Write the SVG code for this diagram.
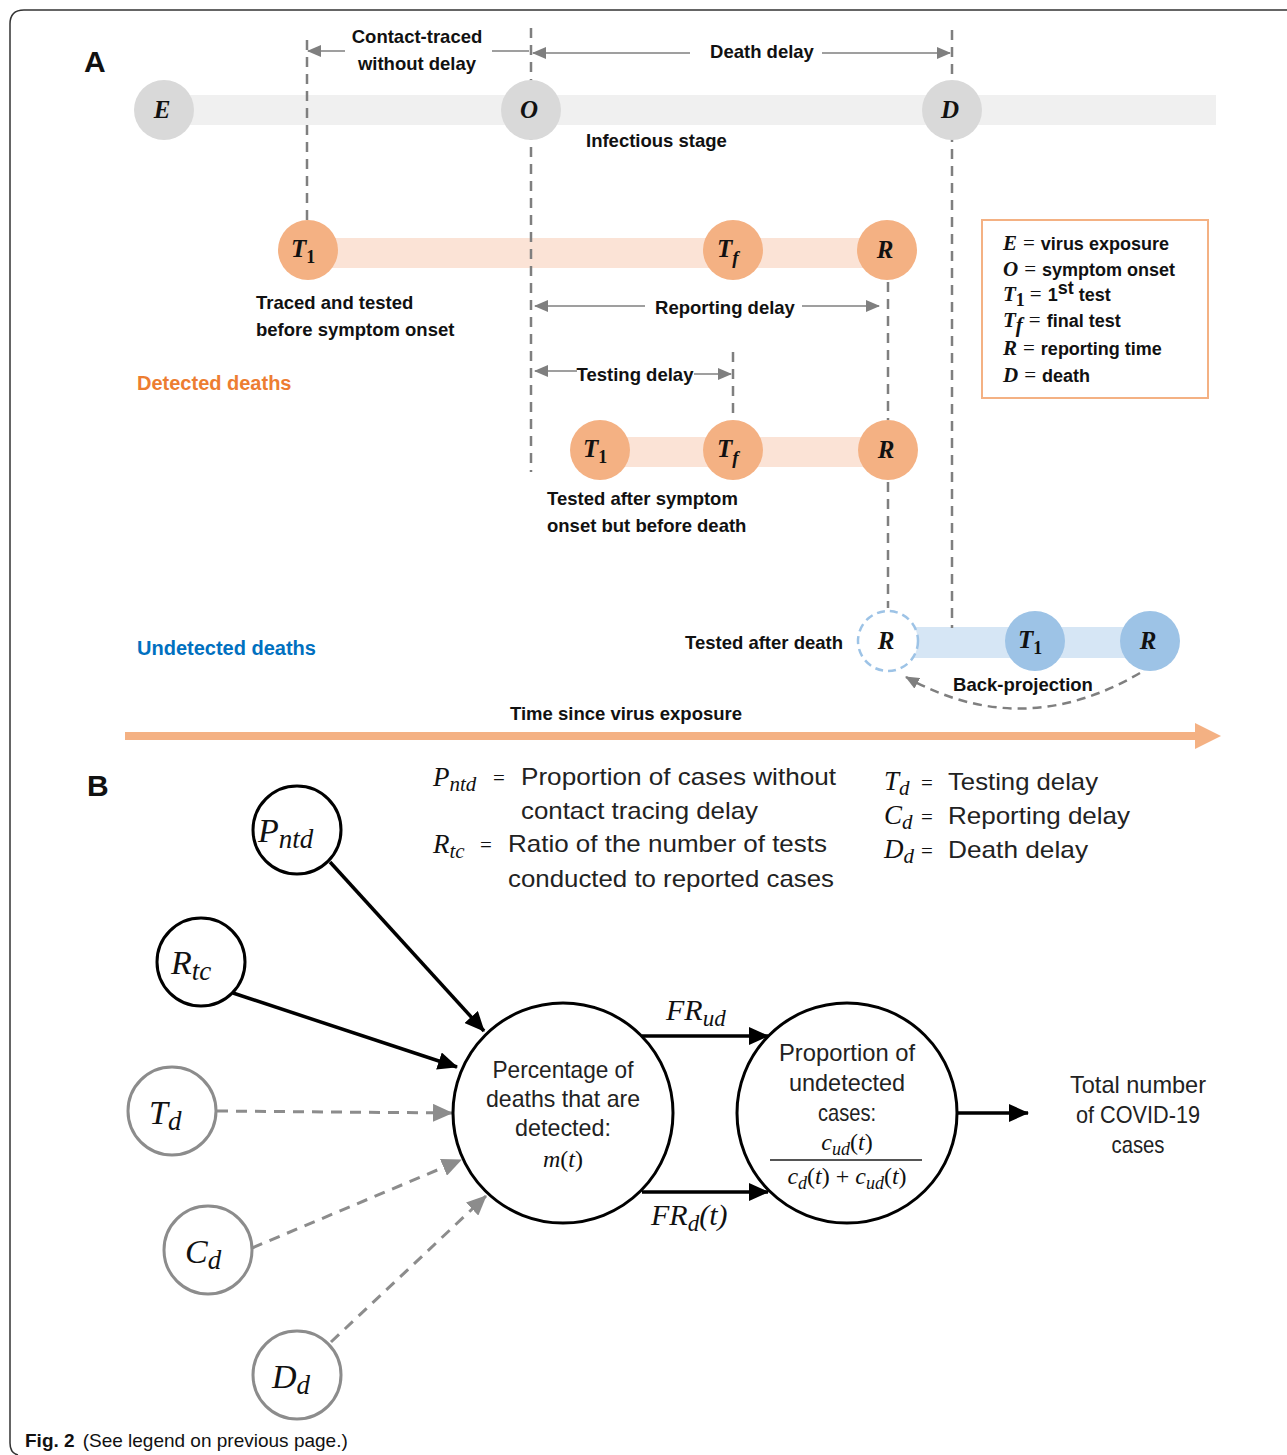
<svg xmlns="http://www.w3.org/2000/svg" width="1287" height="1455" viewBox="0 0 1287 1455">
<defs>
<style>
.sans{font-family:"Liberation Sans",Arial,sans-serif}
.lbl{font-family:"Liberation Sans",Arial,sans-serif;font-weight:bold;font-size:18.5px;fill:#111}
.mathA{font-family:"Liberation Serif","Times New Roman",serif;font-style:italic;font-weight:bold;font-size:25px;fill:#111}
.subA{font-family:"Liberation Serif","Times New Roman",serif;font-style:normal;font-weight:bold;font-size:18px;fill:#111}
.leg{font-family:"Liberation Sans",Arial,sans-serif;font-weight:bold;font-size:18px;fill:#111}
.legm{font-family:"Liberation Serif","Times New Roman",serif;font-style:italic;font-weight:bold;font-size:21px;fill:#111}
.eq{font-family:"Liberation Serif","Times New Roman",serif;font-size:21px;fill:#111}
.bt{font-family:"Liberation Sans",Arial,sans-serif;font-size:24px;fill:#222}
.bm{font-family:"Liberation Serif","Times New Roman",serif;font-style:italic;fill:#111}
.dash{stroke:#7f7f7f;stroke-width:2.5;stroke-dasharray:10 7;fill:none}
.thin{stroke:#7f7f7f;stroke-width:1.5;fill:none}
.gc{fill:#d9d9d9}
.oc{fill:#f4b183}
.bc{fill:#9dc3e6}
.bk{stroke:#000;stroke-width:3.5;fill:none}
.gy{stroke:#8c8c8c;stroke-width:3;fill:none;stroke-dasharray:11 8}
.nb{fill:#fff;stroke:#000;stroke-width:3}
.ng{fill:#fff;stroke:#8c8c8c;stroke-width:3}
</style>
<marker id="ga" markerUnits="userSpaceOnUse" markerWidth="14" markerHeight="12" refX="13" refY="6" orient="auto"><path d="M0,0 L14,6 L0,12 z" fill="#7f7f7f"/></marker>
<marker id="ka" markerUnits="userSpaceOnUse" markerWidth="20" markerHeight="18" refX="19" refY="9" orient="auto"><path d="M0,0 L20,9 L0,18 z" fill="#000"/></marker>
<marker id="gya" markerUnits="userSpaceOnUse" markerWidth="20" markerHeight="18" refX="19" refY="9" orient="auto"><path d="M0,0 L20,9 L0,18 z" fill="#8c8c8c"/></marker>
</defs>
<rect width="1287" height="1455" fill="#fff"/>
<path d="M1287 10 H24 Q10 10 10 24 V1443 Q10 1453 18 1455" fill="none" stroke="#333" stroke-width="1.5"/>

<!-- Panel A -->
<text x="84" y="72" class="sans" font-size="30" font-weight="bold" fill="#111">A</text>
<rect x="164" y="95" width="1052" height="30" fill="#f0f0f0"/>
<rect x="308" y="238" width="580" height="30" fill="#fbe3d6"/>
<rect x="600" y="437" width="288" height="30" fill="#fbe3d6"/>
<rect x="888" y="627" width="262" height="31" fill="#d6e6f5"/>

<g id="connectors">
<line class="dash" x1="307" y1="40" x2="307" y2="222"/>
<line class="dash" x1="531" y1="28" x2="531" y2="472"/>
<line class="dash" x1="952" y1="30" x2="952" y2="628"/>
<line class="dash" x1="888" y1="282" x2="888" y2="420"/>
<line class="dash" x1="888" y1="482" x2="888" y2="608"/>
<line class="dash" x1="733" y1="352" x2="733" y2="420"/>
<line class="thin" x1="345" y1="51" x2="308" y2="51" marker-end="url(#ga)"/>
<line class="thin" x1="492" y1="51" x2="529" y2="51"/>
<line class="thin" x1="690" y1="53" x2="533" y2="53" marker-end="url(#ga)"/>
<line class="thin" x1="822" y1="53" x2="950" y2="53" marker-end="url(#ga)"/>
<line class="thin" x1="645" y1="306" x2="535" y2="306" marker-end="url(#ga)"/>
<line class="thin" x1="802" y1="306" x2="879" y2="306" marker-end="url(#ga)"/>
<line class="thin" x1="577" y1="371" x2="535" y2="371" marker-end="url(#ga)"/>
<line class="thin" x1="694" y1="374" x2="731" y2="374" marker-end="url(#ga)"/>
<path d="M1140 673 Q1022 742 906 677" stroke="#7f7f7f" stroke-width="2.5" stroke-dasharray="9 6" fill="none" marker-end="url(#ga)"/>
<line x1="125" y1="736" x2="1196" y2="736" stroke="#f4b183" stroke-width="8"/>
<polygon points="1195,723 1221,736 1195,749" fill="#f4b183"/>
<line class="bk" x1="330" y1="862" x2="484" y2="1031" marker-end="url(#ka)"/>
<line class="bk" x1="233" y1="993" x2="457" y2="1067" marker-end="url(#ka)"/>
<line class="gy" x1="217" y1="1111" x2="452" y2="1113" marker-end="url(#gya)"/>
<line class="gy" x1="252" y1="1248" x2="461" y2="1160" marker-end="url(#gya)"/>
<line class="gy" x1="331" y1="1342" x2="486" y2="1196" marker-end="url(#gya)"/>
<line class="bk" x1="642" y1="1036" x2="768" y2="1036" marker-end="url(#ka)"/>
<line class="bk" x1="642" y1="1192" x2="768" y2="1192" marker-end="url(#ka)"/>
<line class="bk" x1="958" y1="1113" x2="1028" y2="1113" marker-end="url(#ka)"/>
</g>

<text x="417" y="43" class="lbl" text-anchor="middle">Contact-traced</text>
<text x="417" y="70" class="lbl" text-anchor="middle">without delay</text>
<text x="762" y="58" class="lbl" text-anchor="middle">Death delay</text>
<text x="586" y="147" class="lbl">Infectious stage</text>
<text x="256" y="309" class="lbl">Traced and tested</text>
<text x="256" y="336" class="lbl">before symptom onset</text>
<text x="725" y="314" class="lbl" text-anchor="middle">Reporting delay</text>
<text x="635" y="381" class="lbl" text-anchor="middle">Testing delay</text>
<text x="137" y="390" class="sans" font-size="20" font-weight="bold" fill="#ed7d31">Detected deaths</text>
<text x="547" y="505" class="lbl">Tested after symptom</text>
<text x="547" y="532" class="lbl">onset but before death</text>
<text x="137" y="655" class="sans" font-size="20" font-weight="bold" fill="#0070c0">Undetected deaths</text>
<text x="843" y="649" class="lbl" text-anchor="end">Tested after death</text>
<text x="1023" y="691" class="lbl" text-anchor="middle">Back-projection</text>
<text x="626" y="720" class="lbl" text-anchor="middle">Time since virus exposure</text>

<g id="node-E"><circle class="gc" cx="164" cy="110" r="30"/><text x="162" y="118" class="mathA" text-anchor="middle">E</text></g>
<g id="node-O"><circle class="gc" cx="531" cy="110" r="30"/><text x="529" y="118" class="mathA" text-anchor="middle">O</text></g>
<g id="node-D"><circle class="gc" cx="952" cy="110" r="30"/><text x="950" y="118" class="mathA" text-anchor="middle">D</text></g>

<g id="node-T1a"><circle class="oc" cx="308" cy="250" r="30"/><text x="291" y="257" class="mathA">T<tspan class="subA" dy="6">1</tspan></text></g>
<g id="node-Tfa"><circle class="oc" cx="733" cy="250" r="30"/><text x="717" y="257" class="mathA">T<tspan dy="7" font-size="19">f</tspan></text></g>
<g id="node-Ra"><circle class="oc" cx="887" cy="250" r="30"/><text x="885" y="258" class="mathA" text-anchor="middle">R</text></g>

<g id="node-T1b"><circle class="oc" cx="600" cy="450" r="30"/><text x="583" y="457" class="mathA">T<tspan class="subA" dy="6">1</tspan></text></g>
<g id="node-Tfb"><circle class="oc" cx="733" cy="450" r="30"/><text x="717" y="457" class="mathA">T<tspan dy="7" font-size="19">f</tspan></text></g>
<g id="node-Rb"><circle class="oc" cx="888" cy="450" r="30"/><text x="886" y="458" class="mathA" text-anchor="middle">R</text></g>

<g id="node-Rc"><circle cx="888" cy="641" r="30" fill="#fff" stroke="#9dc3e6" stroke-width="2.5" stroke-dasharray="8 5"/><text x="886" y="649" class="mathA" text-anchor="middle">R</text></g>
<g id="node-T1c"><circle class="bc" cx="1035" cy="641" r="30"/><text x="1018" y="648" class="mathA">T<tspan class="subA" dy="6">1</tspan></text></g>
<g id="node-Rd"><circle class="bc" cx="1150" cy="641" r="30"/><text x="1148" y="649" class="mathA" text-anchor="middle">R</text></g>

<g id="legend-A">
<rect x="982" y="220" width="226" height="178" fill="#fff" stroke="#f4b183" stroke-width="2"/>
<text x="1003" y="250"><tspan class="legm">E</tspan><tspan class="eq" dx="6">=</tspan><tspan class="leg" dx="6">virus exposure</tspan></text>
<text x="1003" y="276"><tspan class="legm">O</tspan><tspan class="eq" dx="6">=</tspan><tspan class="leg" dx="6">symptom onset</tspan></text>
<text x="1003" y="301"><tspan class="legm">T</tspan><tspan class="subA" font-size="15" dy="5">1</tspan><tspan class="eq" dx="5" dy="-5">=</tspan><tspan class="leg" dx="6">1</tspan><tspan class="leg" font-size="11" dy="-7">st</tspan><tspan class="leg" dy="7"> test</tspan></text>
<text x="1003" y="327"><tspan class="legm">T</tspan><tspan class="legm" font-size="15" dy="5">f</tspan><tspan class="eq" dx="6" dy="-5">=</tspan><tspan class="leg" dx="6">final test</tspan></text>
<text x="1003" y="355"><tspan class="legm">R</tspan><tspan class="eq" dx="6">=</tspan><tspan class="leg" dx="6">reporting time</tspan></text>
<text x="1003" y="382"><tspan class="legm">D</tspan><tspan class="eq" dx="6">=</tspan><tspan class="leg" dx="6">death</tspan></text>
</g>

<!-- Panel B -->
<text x="87" y="796" class="sans" font-size="30" font-weight="bold" fill="#111">B</text>
<g id="legend-B">
<text x="433" y="786"><tspan class="bm" font-size="27">P</tspan><tspan class="bm" font-size="21" dy="5">ntd</tspan></text>
<text x="493" y="785" class="eq" font-size="27">=</text>
<text x="521" y="785" class="bt" font-size="26" textLength="315" lengthAdjust="spacingAndGlyphs">Proportion of cases without</text>
<text x="521" y="819" class="bt" font-size="26" textLength="237" lengthAdjust="spacingAndGlyphs">contact tracing delay</text>
<text x="433" y="853"><tspan class="bm" font-size="27">R</tspan><tspan class="bm" font-size="21" dy="5">tc</tspan></text>
<text x="480" y="852" class="eq" font-size="27">=</text>
<text x="508" y="852" class="bt" font-size="26" textLength="319" lengthAdjust="spacingAndGlyphs">Ratio of the number of tests</text>
<text x="508" y="887" class="bt" font-size="26" textLength="326" lengthAdjust="spacingAndGlyphs">conducted to reported cases</text>
<text x="884" y="790"><tspan class="bm" font-size="27">T</tspan><tspan class="bm" font-size="21" dy="5">d</tspan></text>
<text x="921" y="790" class="eq" font-size="27">=</text>
<text x="948" y="790" class="bt" font-size="26" textLength="150" lengthAdjust="spacingAndGlyphs">Testing delay</text>
<text x="884" y="824"><tspan class="bm" font-size="27">C</tspan><tspan class="bm" font-size="21" dy="5">d</tspan></text>
<text x="921" y="824" class="eq" font-size="27">=</text>
<text x="948" y="824" class="bt" font-size="26" textLength="182" lengthAdjust="spacingAndGlyphs">Reporting delay</text>
<text x="884" y="858"><tspan class="bm" font-size="27">D</tspan><tspan class="bm" font-size="21" dy="5">d</tspan></text>
<text x="921" y="858" class="eq" font-size="27">=</text>
<text x="948" y="858" class="bt" font-size="26" textLength="140" lengthAdjust="spacingAndGlyphs">Death delay</text>
</g>

<g id="node-Pntd"><circle class="nb" cx="297" cy="830" r="44"/><text x="258" y="842"><tspan class="bm" font-size="34">P</tspan><tspan class="bm" font-size="27" dy="6">ntd</tspan></text></g>
<g id="node-Rtc"><circle class="nb" cx="201" cy="962" r="44"/><text x="171" y="974"><tspan class="bm" font-size="34">R</tspan><tspan class="bm" font-size="27" dy="6">tc</tspan></text></g>
<g id="node-Td"><circle class="ng" cx="172" cy="1111" r="44"/><text x="149" y="1124"><tspan class="bm" font-size="34" fill="#8c8c8c">T</tspan><tspan class="bm" font-size="27" dy="6" fill="#8c8c8c">d</tspan></text></g>
<g id="node-Cd"><circle class="ng" cx="208" cy="1250" r="44"/><text x="185" y="1263"><tspan class="bm" font-size="34" fill="#8c8c8c">C</tspan><tspan class="bm" font-size="27" dy="6" fill="#8c8c8c">d</tspan></text></g>
<g id="node-Dd"><circle class="ng" cx="297" cy="1375" r="44"/><text x="272" y="1388"><tspan class="bm" font-size="34" fill="#8c8c8c">D</tspan><tspan class="bm" font-size="27" dy="6" fill="#8c8c8c">d</tspan></text></g>

<g id="node-m"><circle class="nb" cx="563" cy="1113" r="110"/>
<text x="563" y="1078" class="bt" text-anchor="middle" textLength="141" lengthAdjust="spacingAndGlyphs">Percentage of</text>
<text x="563" y="1107" class="bt" text-anchor="middle" textLength="154" lengthAdjust="spacingAndGlyphs">deaths that are</text>
<text x="563" y="1136" class="bt" text-anchor="middle" textLength="96" lengthAdjust="spacingAndGlyphs">detected:</text>
<text x="563" y="1167" class="bm" font-size="24" text-anchor="middle">m<tspan font-style="normal">(</tspan>t<tspan font-style="normal">)</tspan></text>
</g>
<g id="node-prop"><circle class="nb" cx="847" cy="1113" r="110"/>
<text x="847" y="1061" class="bt" text-anchor="middle" textLength="136" lengthAdjust="spacingAndGlyphs">Proportion of</text>
<text x="847" y="1091" class="bt" text-anchor="middle" textLength="116" lengthAdjust="spacingAndGlyphs">undetected</text>
<text x="847" y="1121" class="bt" text-anchor="middle" textLength="58" lengthAdjust="spacingAndGlyphs">cases:</text>
<text x="847" y="1150" class="bm" font-size="24" text-anchor="middle">c<tspan font-size="18" dy="5">ud</tspan><tspan font-style="normal" dy="-5">(</tspan>t<tspan font-style="normal">)</tspan></text>
<line x1="770" y1="1160" x2="922" y2="1160" stroke="#555" stroke-width="2"/>
<text x="847" y="1184" class="bm" font-size="24" text-anchor="middle">c<tspan font-size="18" dy="5">d</tspan><tspan font-style="normal" dy="-5">(</tspan>t<tspan font-style="normal">) + </tspan>c<tspan font-size="18" dy="5">ud</tspan><tspan font-style="normal" dy="-5">(</tspan>t<tspan font-style="normal">)</tspan></text>
</g>
<g id="node-total">
<text x="1138" y="1093" class="bt" text-anchor="middle" textLength="136" lengthAdjust="spacingAndGlyphs">Total number</text>
<text x="1138" y="1123" class="bt" text-anchor="middle" textLength="124" lengthAdjust="spacingAndGlyphs">of COVID-19</text>
<text x="1138" y="1153" class="bt" text-anchor="middle" textLength="53" lengthAdjust="spacingAndGlyphs">cases</text>
</g>
<text x="666" y="1020"><tspan class="bm" font-size="30">FR</tspan><tspan class="bm" font-size="23" dy="6">ud</tspan></text>
<text x="651" y="1225"><tspan class="bm" font-size="30">FR</tspan><tspan class="bm" font-size="23" dy="6">d</tspan><tspan class="bm" font-size="30" font-style="normal" dy="-6">(</tspan><tspan class="bm" font-size="30">t</tspan><tspan class="bm" font-size="30" font-style="normal">)</tspan></text>

<text x="25" y="1447" class="sans" font-size="19" fill="#111"><tspan font-weight="bold">Fig. 2</tspan><tspan dx="8">(See legend on previous page.)</tspan></text>
</svg>
